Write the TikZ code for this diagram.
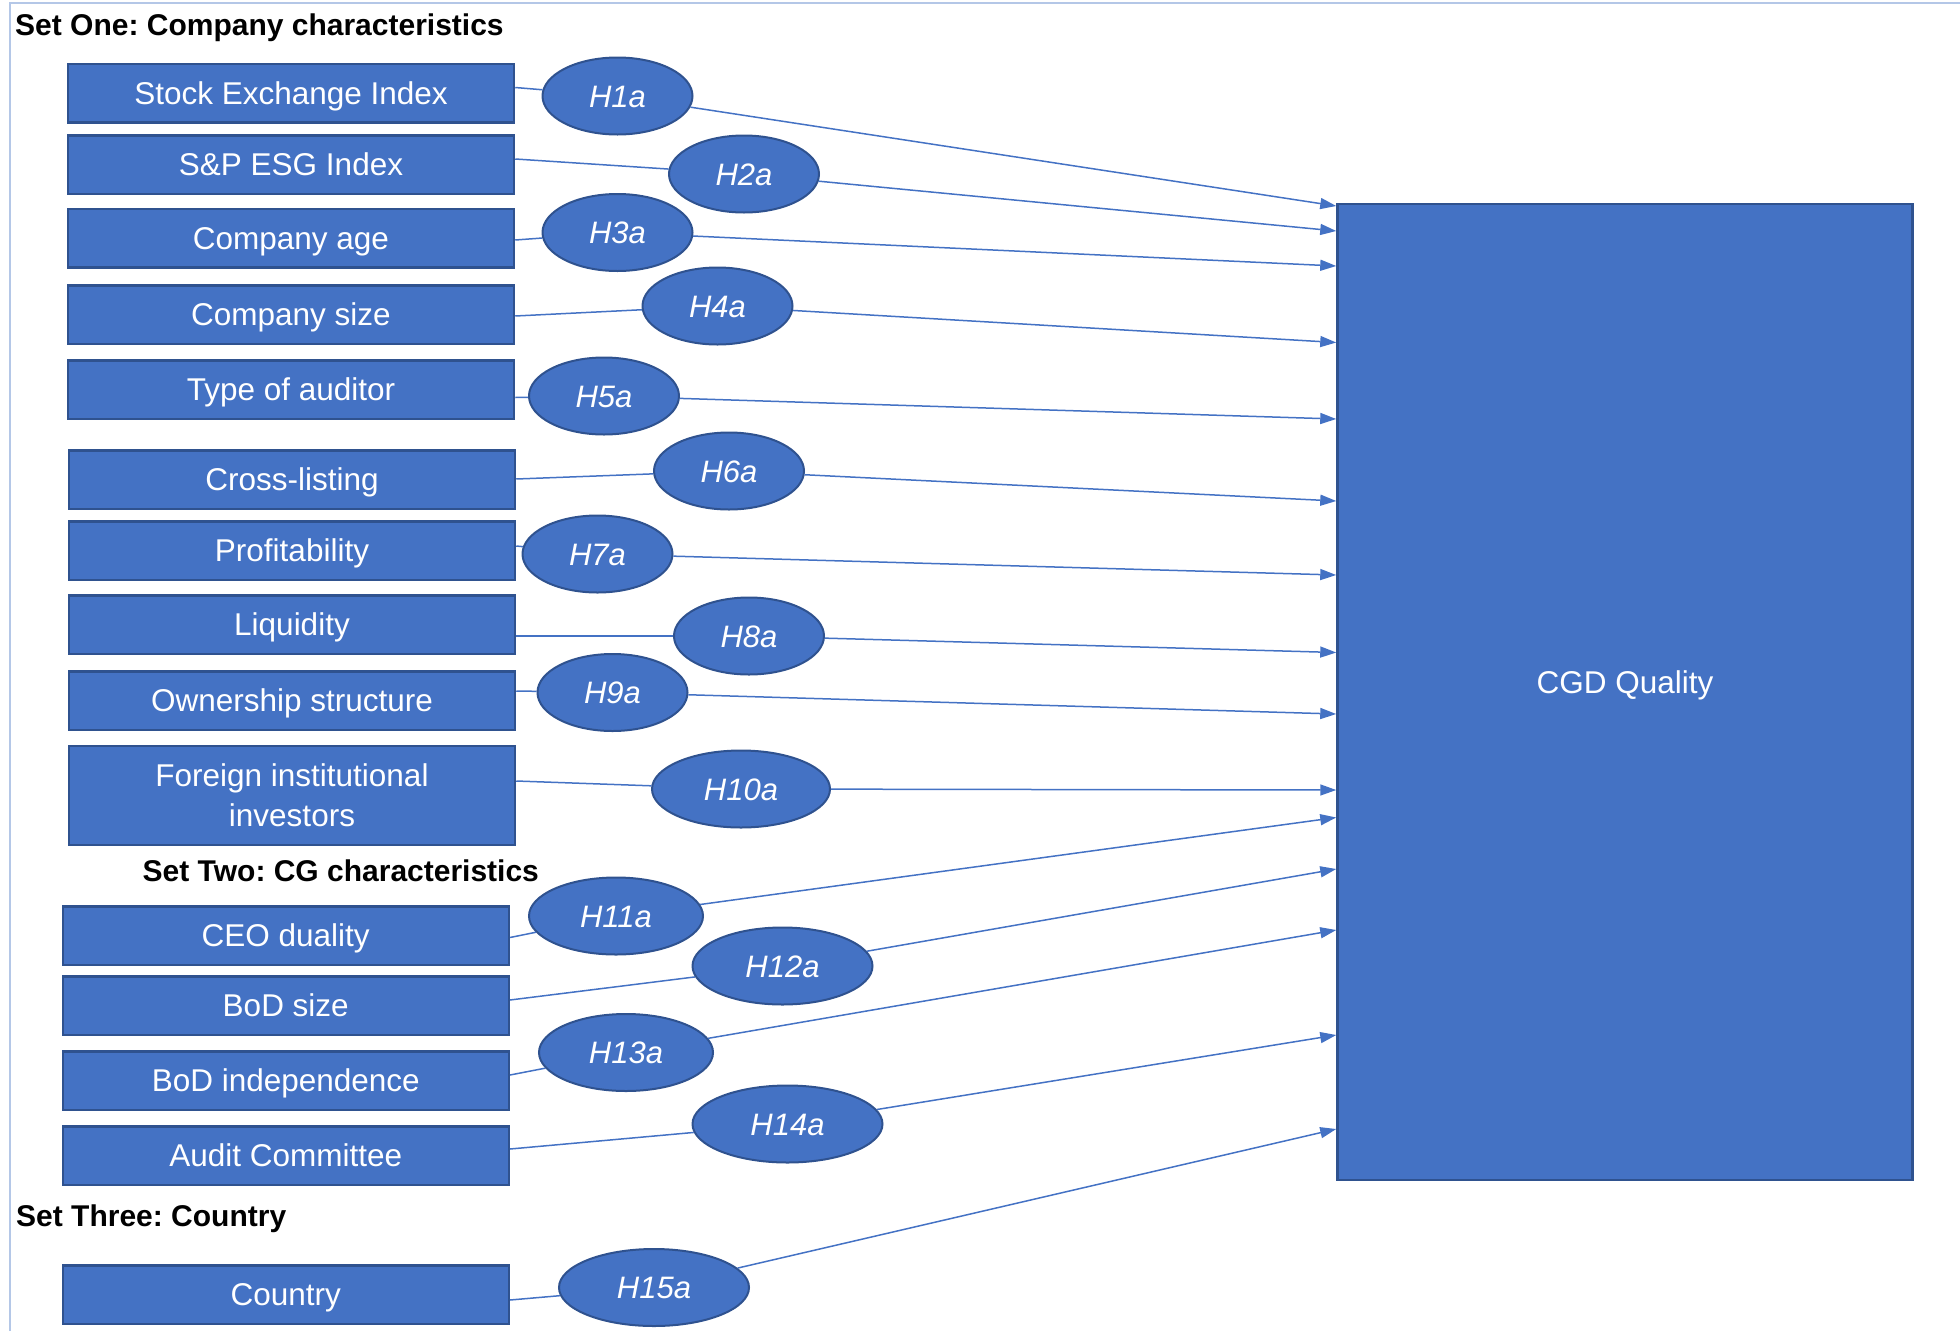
\documentclass[tikz,border=0pt]{standalone}
\usepackage{fontspec}
\setmainfont{Liberation Sans}
\usetikzlibrary{shapes.geometric,arrows.meta}
\definecolor{accent}{HTML}{4472C4}
\definecolor{accentdark}{HTML}{2F528F}
\definecolor{framecol}{HTML}{B4C7E7}
\frenchspacing

\begin{document}
\begin{tikzpicture}[x=1pt,y=-1pt,
  varbox/.style={draw=accentdark, fill=accent, line width=2.5pt,
    minimum width=446pt, minimum height=58.5pt, inner sep=0pt,
    text height=22.5pt, text depth=0pt,
    text=white, align=center, font=\fontsize{31.5}{40}\selectfont},
  hyp/.style={ellipse, draw=accentdark, fill=accent, line width=2pt,
    minimum width=150pt, minimum height=77pt, inner sep=0pt,
    text height=22pt, text depth=0pt,
    text=white, font=\fontsize{31}{37}\selectfont\itshape},
  link/.style={draw=accent, line width=1.5pt},
  arr/.style={link, -{Triangle[length=16pt,width=11pt]}},
  settitle/.style={anchor=west, inner sep=0pt, font=\fontsize{30}{36}\selectfont\bfseries}
]
\useasboundingbox (0,0) rectangle (1960,1331);

% page frame
\draw[framecol, line width=2pt] (10,1331) -- (10,3) -- (1960,3);

% section headings
\node[settitle] (s1) at (15,27.5) {Set One: Company characteristics};
\node[settitle] (s2) at (142.5,871) {Set Two: CG characteristics};
\node[settitle] (s3) at (16,1219) {Set Three: Country};

% outcome
\node[draw=accentdark, fill=accent, line width=2.5pt, minimum width=575pt,
  minimum height=976pt, inner sep=0pt, text=white,
  text height=22.5pt, text depth=20pt,
  font=\fontsize{31.5}{38}\selectfont] (cgd) at (1625,692) {CGD Quality};

% explanatory variables
\node[varbox] (b1) at (291,93.25) {Stock Exchange Index};
\node[varbox] (b2) at (291,164.5) {S\&P ESG Index};
\node[varbox] (b3) at (291,238.25) {Company age};
\node[varbox] (b4) at (291,314.5) {Company size};
\node[varbox] (b5) at (291,389.5) {Type of auditor};
\node[varbox] (b6) at (292,479.5) {Cross-listing};
\node[varbox] (b7) at (292,550.5) {Profitability};
\node[varbox] (b8) at (292,624.5) {Liquidity};
\node[varbox] (b9) at (292,700.5) {Ownership structure};
\node[varbox, minimum height=99pt, text height=62.5pt] (b10) at (292,795.5) {Foreign institutional\\investors};
\node[varbox] (b11) at (285.75,935.5) {CEO duality};
\node[varbox] (b12) at (285.75,1005.5) {BoD size};
\node[varbox] (b13) at (285.75,1080.5) {BoD independence};
\node[varbox] (b14) at (285.75,1155.5) {Audit Committee};
\node[varbox] (b15) at (285.75,1294.5) {Country};

% hypotheses
\node[hyp] (h1) at (617.5,96) {H1a};
\node[hyp] (h2) at (744,174) {H2a};
\node[hyp] (h3) at (617.5,232.5) {H3a};
\node[hyp] (h4) at (717.5,306) {H4a};
\node[hyp] (h5) at (604,396) {H5a};
\node[hyp] (h6) at (729,471) {H6a};
\node[hyp] (h7) at (597.5,554) {H7a};
\node[hyp] (h8) at (749,636) {H8a};
\node[hyp] (h9) at (612.5,692.5) {H9a};
\node[hyp, minimum width=178pt] (h10) at (741,789) {H10a};
\node[hyp, minimum width=174pt] (h11) at (616,916) {H11a};
\node[hyp, minimum width=180pt] (h12) at (782.5,966) {H12a};
\node[hyp, minimum width=174pt] (h13) at (626,1052.5) {H13a};
\node[hyp, minimum width=190pt] (h14) at (787.5,1124) {H14a};
\node[hyp, minimum width=190pt] (h15) at (654,1287.5) {H15a};

% variable -> hypothesis
\draw[link] ([yshift=5.75pt]b1.east) -- (h1);
\draw[link] ([yshift=5.5pt]b2.east) -- (h2);
\draw[link] ([yshift=-1.75pt]b3.east) -- (h3);
\draw[link] ([yshift=-1.5pt]b4.east) -- (h4);
\draw[link] ([yshift=-8pt]b5.east) -- (h5);
\draw[link] ([yshift=0.5pt]b6.east) -- (h6);
\draw[link] ([yshift=4.5pt]b7.east) -- (h7);
\draw[link] ([yshift=-11.5pt]b8.east) -- (h8);
\draw[link] ([yshift=9.5pt]b9.east) -- (h9);
\draw[link] ([yshift=14.5pt]b10.east) -- (h10);
\draw[link] ([yshift=-2pt]b11.east) -- (h11);
\draw[link] ([yshift=5.5pt]b12.east) -- (h12);
\draw[link] ([yshift=5.5pt]b13.east) -- (h13);
\draw[link] ([yshift=6.5pt]b14.east) -- (h14);
\draw[link] ([yshift=-5.5pt]b15.east) -- (h15);

% hypothesis -> outcome
\draw[arr] (h1) -- (cgd.west |- 0,206);
\draw[arr] (h2) -- (cgd.west |- 0,231);
\draw[arr] (h3) -- (cgd.west |- 0,266);
\draw[arr] (h4) -- (cgd.west |- 0,342.5);
\draw[arr] (h5) -- (cgd.west |- 0,419);
\draw[arr] (h6) -- (cgd.west |- 0,501);
\draw[arr] (h7) -- (cgd.west |- 0,575);
\draw[arr] (h8) -- (cgd.west |- 0,652.5);
\draw[arr] (h9) -- (cgd.west |- 0,714);
\draw[arr] (h10) -- (cgd.west |- 0,790);
\draw[arr] (h11) -- (cgd.west |- 0,817.5);
\draw[arr] (h12) -- (cgd.west |- 0,869);
\draw[arr] (h13) -- (cgd.west |- 0,930);
\draw[arr] (h14) -- (cgd.west |- 0,1035);
\draw[arr] (h15) -- (cgd.west |- 0,1129);
\end{tikzpicture}
\end{document}
